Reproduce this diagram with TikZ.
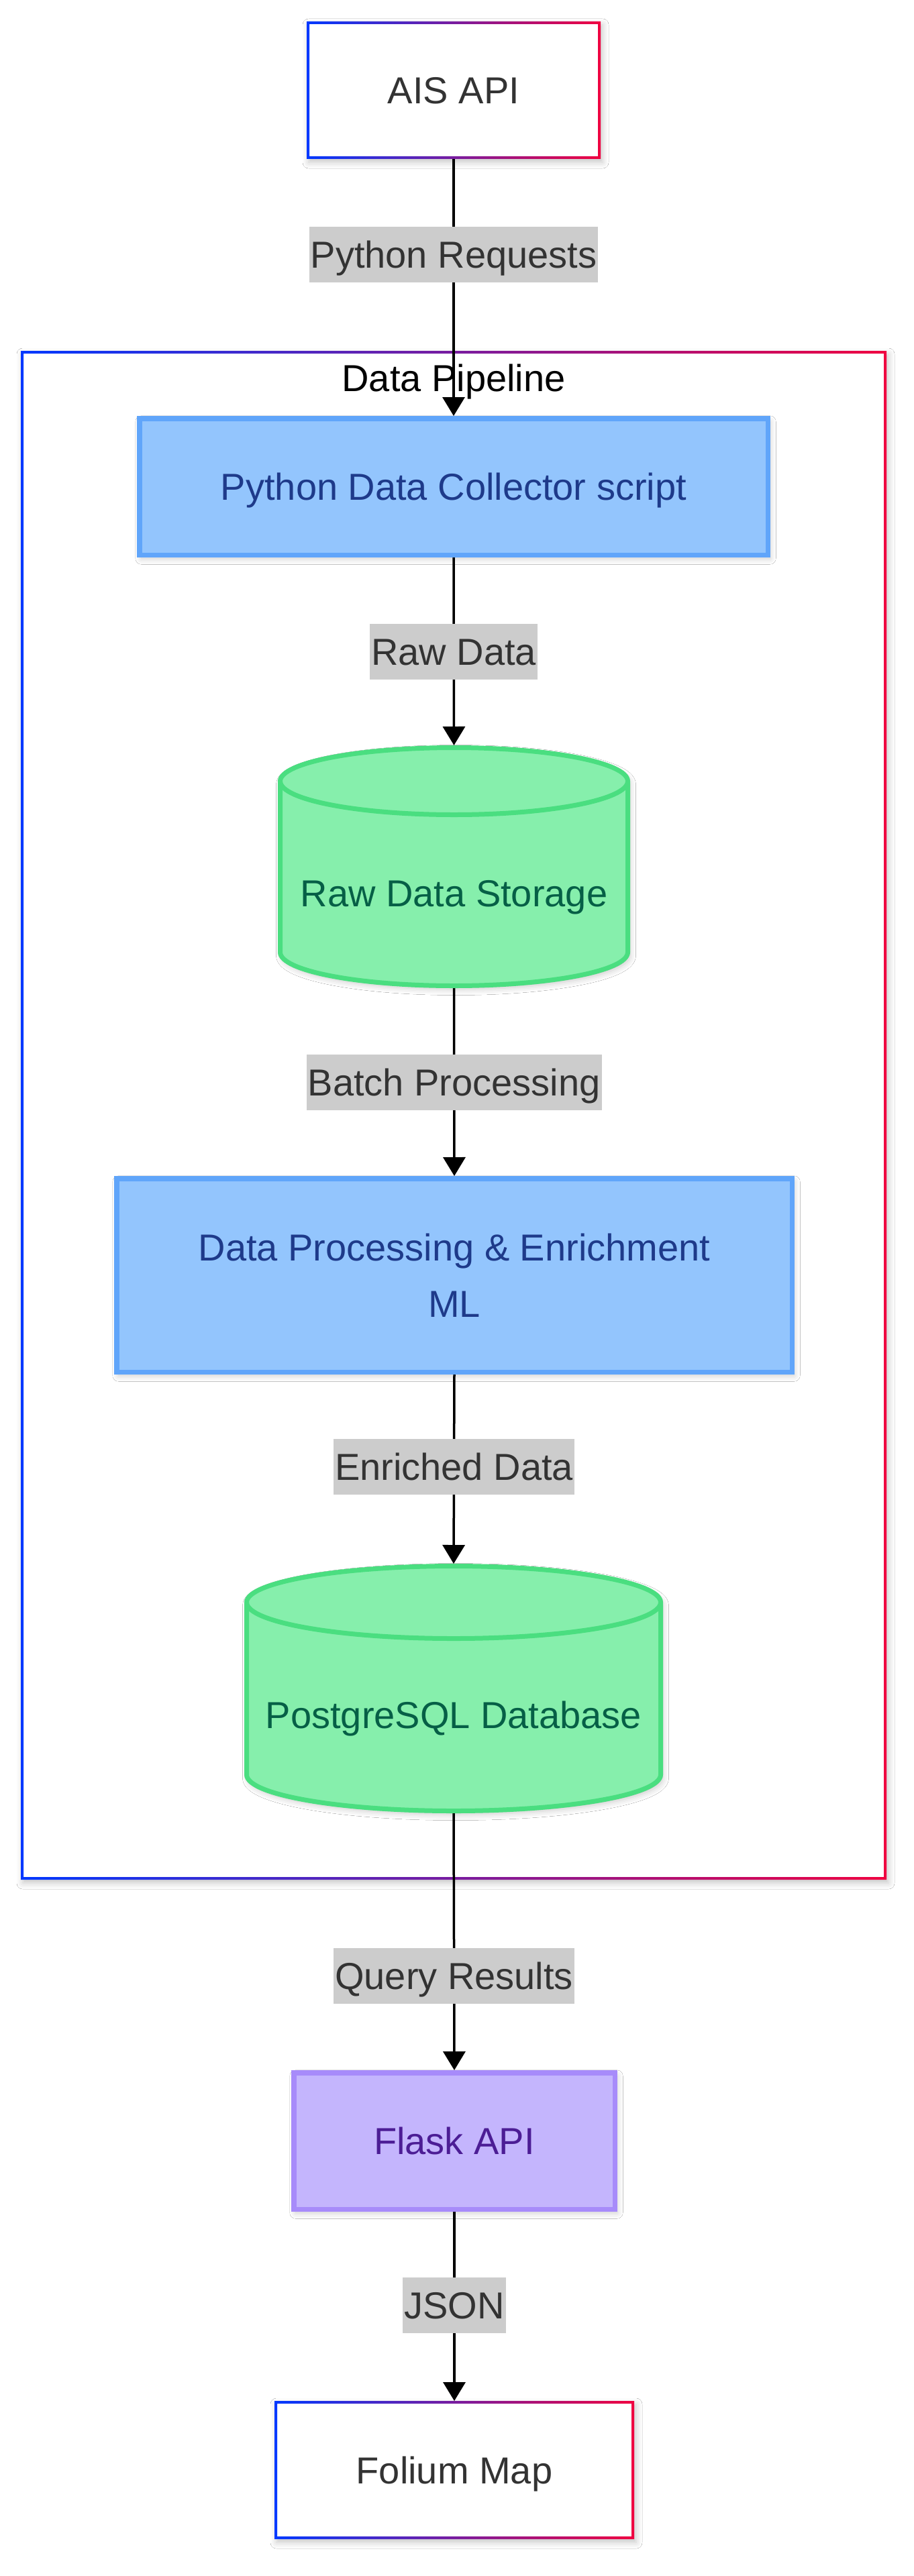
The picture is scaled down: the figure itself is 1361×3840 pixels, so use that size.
\documentclass[tikz,border=0pt]{standalone}
\usepackage{fontspec}
\setmainfont{Liberation Sans}
\usetikzlibrary{arrows.meta,shadows.blur}
\definecolor{gblue}{RGB}{0,56,255}
\definecolor{gred}{RGB}{240,0,64}
\definecolor{lblgray}{RGB}{204,204,204}
\definecolor{txtgray}{RGB}{51,51,51}
\definecolor{bfill}{HTML}{93C5FD}
\definecolor{bstroke}{HTML}{60A5FA}
\definecolor{btext}{HTML}{1E3A8A}
\definecolor{gfill}{HTML}{86EFAC}
\definecolor{gstroke}{HTML}{4ADE80}
\definecolor{gtext}{HTML}{065F46}
\definecolor{pfill}{HTML}{C4B5FD}
\definecolor{pstroke}{HTML}{A78BFA}
\definecolor{ptext}{HTML}{4C1D95}
\tikzset{
  big/.style={font=\fontsize{56pt}{84pt}\selectfont},
  oneline/.style={text height=40pt, text depth=0pt},
  softshadow/.style={blur shadow={shadow xshift=3pt, shadow yshift=-5pt, shadow blur radius=9pt, shadow opacity=22}},
  gbox/.style={big, oneline, text=txtgray, fill=white, draw=none, inner sep=0pt, outer sep=0pt, softshadow},
  gborder/.style={left color=gblue, right color=gred, even odd rule},
  bluebox/.style={big, text=btext, fill=bfill, draw=bstroke, line width=7.5pt, inner sep=0pt, softshadow},
  purplebox/.style={big, oneline, text=ptext, fill=pfill, draw=pstroke, line width=7.5pt, inner sep=0pt, softshadow},
  cylbody/.style={fill=gfill, draw=gstroke, line width=7pt, softshadow},
  cylline/.style={draw=gstroke, line width=7pt},
  cyltext/.style={big, text=gtext, inner sep=0pt, outer sep=0pt, text height=118pt, text depth=0pt},
  elabel/.style={big, text=txtgray, fill=lblgray, inner xsep=2pt, inner ysep=0pt, minimum height=83pt, text height=40pt, text depth=0pt},
  flow/.style={draw=black, line width=3.5pt, -{Triangle[length=28pt,width=33pt]}}
}
\newcommand{\drawcyl}[5]{%
  \path[cylbody] ({#1-#2},#3) -- ({#1-#2},#4)
    .. controls ({#1-#2},{#4+0.5523*#5}) and ({#1-0.5523*#2},{#4+#5}) .. (#1,{#4+#5})
    .. controls ({#1+0.5523*#2},{#4+#5}) and ({#1+#2},{#4+0.5523*#5}) .. ({#1+#2},#4)
    -- ({#1+#2},#3)
    .. controls ({#1+#2},{#3-0.5523*#5}) and ({#1+0.5523*#2},{#3-#5}) .. (#1,{#3-#5})
    .. controls ({#1-0.5523*#2},{#3-#5}) and ({#1-#2},{#3-0.5523*#5}) .. ({#1-#2},#3) -- cycle;
  \path[cylline] ({#1-#2},#3)
    .. controls ({#1-#2},{#3+0.5523*#5}) and ({#1-0.5523*#2},{#3+#5}) .. (#1,{#3+#5})
    .. controls ({#1+0.5523*#2},{#3+#5}) and ({#1+#2},{#3+0.5523*#5}) .. ({#1+#2},#3);
}
\newcommand{\gradframe}[1]{%
  \shade[gborder] (#1.north west) rectangle (#1.south east)
    ([xshift=4pt,yshift=-4pt]#1.north west) rectangle ([xshift=-4pt,yshift=4pt]#1.south east);
}
\begin{document}
\begin{tikzpicture}[x=1pt,y=-1pt]
\useasboundingbox (0,0) rectangle (1361,3840);
\fill[white] (0,0) rectangle (1361,3840);

% cluster
\node[fill=white, draw=none, inner sep=0pt, outer sep=0pt, minimum width=1290pt, minimum height=2279pt, softshadow] (pipe) at (676,1662.5) {};
\gradframe{pipe}
\node[big, oneline, text=black, inner sep=0pt] (pipetitle) at (676,563) {Data Pipeline};

% AIS API
\node[gbox, minimum width=438pt, minimum height=205pt] (ais) at (676,134.5) {AIS API};
\gradframe{ais}

% Python Data Collector
\node[bluebox, oneline, minimum width=936.5pt, minimum height=203.5pt] (pdc) at (676,725.5) {Python Data Collector script};

% Raw Data Storage
\drawcyl{676.5}{259}{1164.5}{1419.5}{50}
\node[cyltext, minimum width=525pt, minimum height=362pt] (rds) at (676.5,1292) {Raw Data Storage};

% Data Processing
\node[bluebox, align=center, minimum width=1006.5pt, minimum height=288.5pt] (dpe) at (677,1901) {Data Processing \& Enrichment\\ML};

% PostgreSQL
\drawcyl{676}{308.5}{2388.5}{2645.5}{54}
\node[cyltext, minimum width=624pt, minimum height=372pt] (pg) at (676,2517) {PostgreSQL Database};

% Flask API
\node[purplebox, minimum width=478.5pt, minimum height=203.5pt] (flask) at (677,3191.5) {Flask API};

% Folium Map
\node[gbox, minimum width=536pt, minimum height=206pt] (folium) at (677,3682) {Folium Map};
\gradframe{folium}

% connectors
\draw[flow] (ais.south) -- node[elabel, pos=0.373] (l1) {Python Requests} (pdc.north);
\draw[flow] (pdc.south) -- node[elabel, pos=0.5] (l2) {Raw Data} (rds.north);
\draw[flow] (rds.south) -- node[elabel, pos=0.5] (l3) {Batch Processing} (dpe.north);
\draw[flow] (dpe.south) -- node[elabel, pos=0.486] (l4) {Enriched Data} (pg.north);
\draw[flow] (pg.south) -- node[elabel, pos=0.632] (l5) {Query Results} (flask.north);
\draw[flow] (flask.south) -- node[elabel, pos=0.496] (l6) {JSON} (folium.north);
\end{tikzpicture}
\end{document}
